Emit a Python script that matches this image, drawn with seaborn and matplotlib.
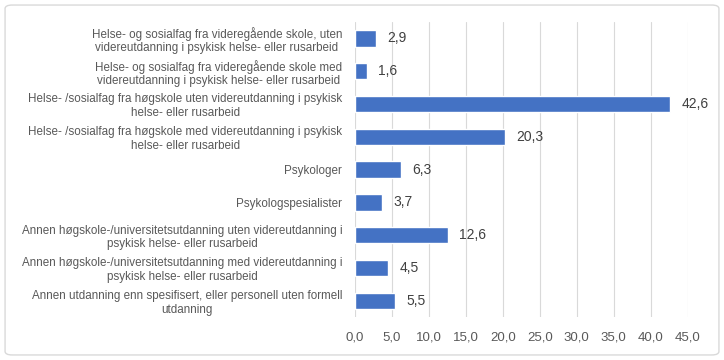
import seaborn as sns
import matplotlib.pyplot as plt
from matplotlib.patches import FancyBboxPatch
import pandas as pd

categories = [
    "Helse- og sosialfag fra videregående skole, uten\nvidereutdanning i psykisk helse- eller rusarbeid",
    "Helse- og sosialfag fra videregående skole med\nvidereutdanning i psykisk helse- eller rusarbeid",
    "Helse- /sosialfag fra høgskole uten videreutdanning i psykisk\nhelse- eller rusarbeid",
    "Helse- /sosialfag fra høgskole med videreutdanning i psykisk\nhelse- eller rusarbeid",
    "Psykologer",
    "Psykologspesialister",
    "Annen høgskole-/universitetsutdanning uten videreutdanning i\npsykisk helse- eller rusarbeid",
    "Annen høgskole-/universitetsutdanning med videreutdanning i\npsykisk helse- eller rusarbeid",
    "Annen utdanning enn spesifisert, eller personell uten formell\nutdanning",
]
values = [2.9, 1.6, 42.6, 20.3, 6.3, 3.7, 12.6, 4.5, 5.5]
xticks = [0, 5, 10, 15, 20, 25, 30, 35, 40, 45]

df = pd.DataFrame({"kategori": categories, "verdi": values})

sns.set_style("white")
plt.rcParams['font.family'] = ['Liberation Sans Narrow', 'Liberation Sans', 'DejaVu Sans']
text_color = "#595959"

fig = plt.figure(figsize=(7.24, 3.6), dpi=100)
ax = fig.add_axes([0.490, 0.119, 0.460, 0.820])

sns.barplot(data=df, x="verdi", y="kategori", color="#4472C4", width=0.5,
            saturation=1, ax=ax)

ax.set_xlim(0, 45)
ax.set_xticks(xticks)
ax.set_xticklabels([f"{t:.1f}".replace(".", ",") for t in xticks], fontsize=9.5, color=text_color)
ax.set_yticks(range(len(categories)))
ax.set_yticklabels(categories, fontsize=8.4, color=text_color, multialignment="center",
                   linespacing=1.15)
ax.set_xlabel("")
ax.set_ylabel("")
ax.tick_params(axis="x", length=0, pad=10)
ax.tick_params(axis="y", length=0, pad=9)

ax.grid(axis="x", color="#D9D9D9", linewidth=0.8)
ax.set_axisbelow(True)
for spine in ax.spines.values():
    spine.set_visible(False)

ax.bar_label(ax.containers[0], labels=[f"{v:.1f}".replace(".", ",") for v in values],
             padding=8, fontsize=10, color="#404040")

# ramme rundt hele figuren
border = FancyBboxPatch((0.007, 0.014), 0.986, 0.972, boxstyle="round,pad=0,rounding_size=0.01",
                        transform=fig.transFigure, fill=False, edgecolor="#D9D9D9", linewidth=1)
fig.patches.append(border)

plt.savefig("out.png", dpi=100)
plt.close()
